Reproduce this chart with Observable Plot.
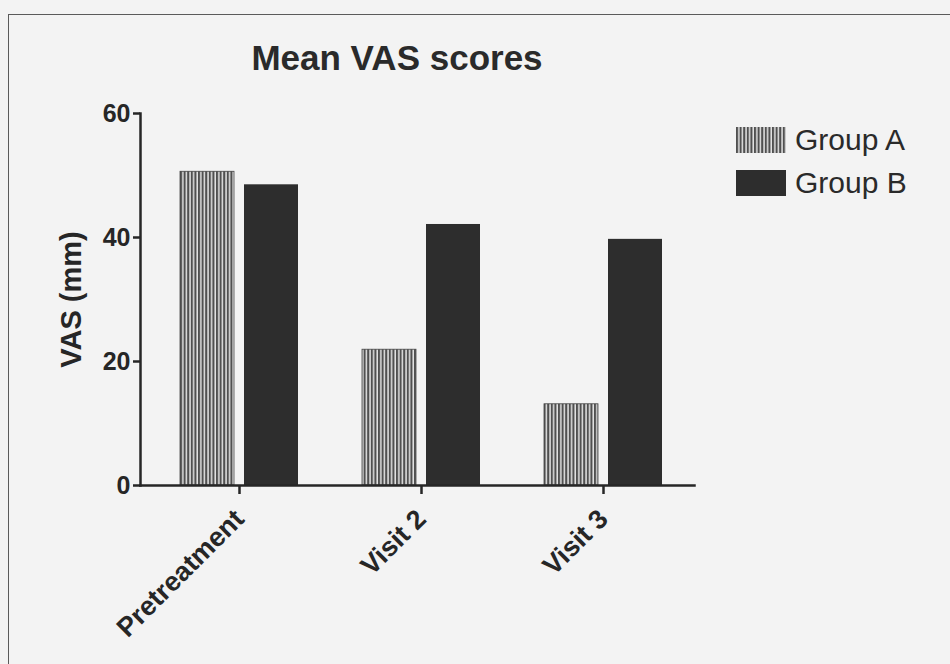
<!DOCTYPE html>
<html>
<head>
<meta charset="utf-8">
<script src="https://cdn.jsdelivr.net/npm/d3@7"></script>
<script src="https://cdn.jsdelivr.net/npm/@observablehq/plot@0.6"></script>
<style>
  html, body { margin: 0; padding: 0; background: #f3f3f3; width: 950px; height: 664px; overflow: hidden; }
  #frame { position: absolute; left: 8px; top: 14px; width: 980px; height: 700px; border: 1.5px solid #5a5a5a; }
  #chart { position: absolute; left: 0; top: 0; }
  #title { position: absolute; left: 147px; width: 500px; top: 38px; text-align: center;
           font: bold 35px "Liberation Sans", Arial, sans-serif; color: #2a2a2a; }
  #legend { position: absolute; left: 736px; top: 118px; font: 30px "Liberation Sans", Arial, sans-serif; color: #2a2a2a; }
  .item { display: flex; align-items: center; height: 43px; }
  .item svg { margin-right: 9px; }
</style>
</head>
<body>
<div id="frame"></div>
<div id="chart"></div>
<div id="title">Mean VAS scores</div>
<div id="legend"></div>
<script>
const categories = ["Pretreatment", "Visit 2", "Visit 3"];
const groups = ["Group A", "Group B"];
const groupA = [50.6, 21.9, 13.1];
const groupB = [48.5, 42.1, 39.7];
const yTicks = [0, 20, 40, 60];

const dataA = categories.map((c, i) => ({category: c, value: groupA[i]}));
const dataB = categories.map((c, i) => ({category: c, value: groupB[i]}));

const ink = "#262626";

const plot = Plot.plot({
  width: 950,
  height: 664,
  marginTop: 113,
  marginBottom: 179,
  marginLeft: 140,
  marginRight: 256,
  style: {background: "transparent", color: ink, overflow: "visible"},
  x: {domain: categories, padding: 0, insetLeft: 8},
  y: {domain: [0, 60]},
  marks: [
    Plot.barY(dataA, {x: "category", y: "value", fill: "#777", insetLeft: 32, insetRight: 96}),
    Plot.barY(dataB, {x: "category", y: "value", fill: "#2d2d2d", insetLeft: 96, insetRight: 32}),
    Plot.axisY({ticks: yTicks, tickSize: 7, tickPadding: 3, strokeWidth: 2.5, label: "VAS (mm)", labelAnchor: "center", labelArrow: "none", labelOffset: 80, fontSize: 25, fontWeight: "bold"}),
    Plot.axisX({tickSize: 9, tickPadding: 20, strokeWidth: 2.5, tickRotate: -45, label: null, fontSize: 27, fontWeight: "bold"}),
    Plot.frame({anchor: "left", stroke: ink, strokeWidth: 2.5}),
    Plot.frame({anchor: "bottom", stroke: ink, strokeWidth: 2.5})
  ]
});

// hatch pattern for Group A
const svg = d3.select(plot);
const defs = svg.insert("defs", ":first-child");
const pat = defs.append("pattern").attr("id", "hatchA").attr("patternUnits", "userSpaceOnUse")
  .attr("width", 3.6).attr("height", 10);
pat.append("rect").attr("width", 3.6).attr("height", 10).attr("fill", "#e4e4e4");
pat.append("rect").attr("width", 2.1).attr("height", 10).attr("fill", "#505050");
const barGroups = svg.selectAll('g[aria-label="bar"]').nodes();
d3.select(barGroups[0]).selectAll("rect").attr("fill", "url(#hatchA)").attr("stroke", "#444").attr("stroke-width", 0.8);
svg.selectAll("text").style("font-family", "'Liberation Sans', Arial, sans-serif");
svg.selectAll('g[aria-label="y-axis label"] text').style("font-size", "29px").style("font-weight", "bold");

document.getElementById("chart").appendChild(plot);

// legend
const legend = d3.select("#legend");
groups.forEach((g, i) => {
  const item = legend.append("div").attr("class", "item");
  const s = item.append("svg").attr("width", 50).attr("height", 26);
  if (i === 0) {
    const d = s.append("defs").append("pattern").attr("id", "hatchL").attr("patternUnits", "userSpaceOnUse")
      .attr("width", 3.6).attr("height", 10);
    d.append("rect").attr("width", 3.6).attr("height", 10).attr("fill", "#e4e4e4");
    d.append("rect").attr("width", 2.1).attr("height", 10).attr("fill", "#505050");
    s.append("rect").attr("width", 50).attr("height", 26).attr("fill", "url(#hatchL)");
  } else {
    s.append("rect").attr("width", 50).attr("height", 26).attr("fill", "#2d2d2d");
  }
  item.append("span").text(g);
});
</script>
</body>
</html>
